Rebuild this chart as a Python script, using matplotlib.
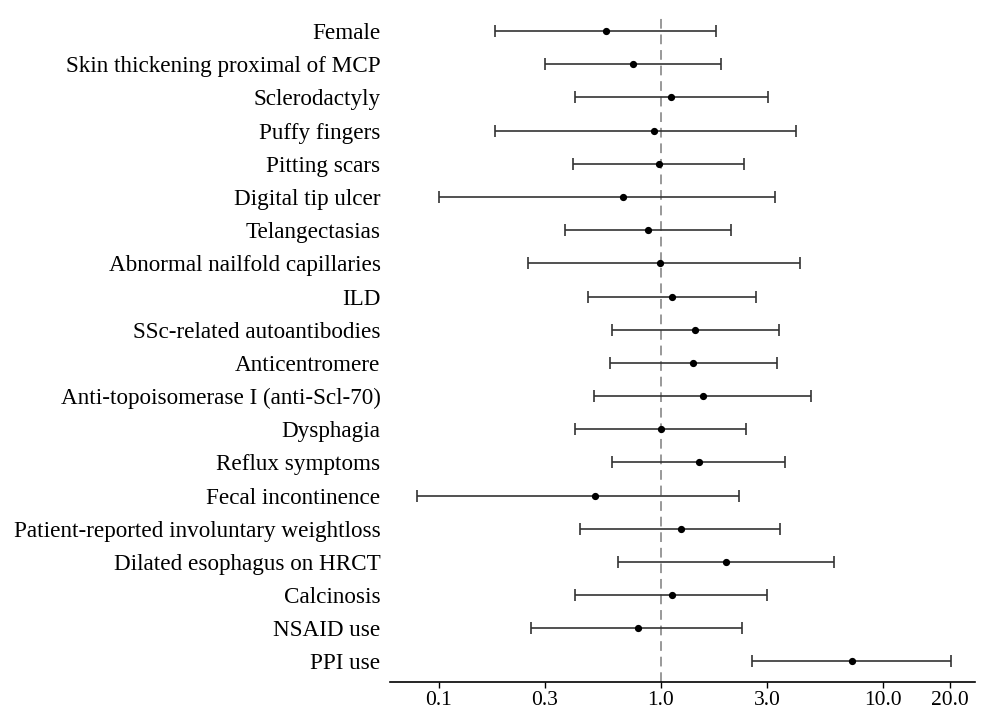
import matplotlib
matplotlib.use("Agg")
import matplotlib.pyplot as plt
import numpy as np

# Odds ratios with 95% CI (top to bottom)
labels = [
    "Female",
    "Skin thickening proximal of MCP",
    "Sclerodactyly",
    "Puffy fingers",
    "Pitting scars",
    "Digital tip ulcer",
    "Telangectasias",
    "Abnormal nailfold capillaries",
    "ILD",
    "SSc-related autoantibodies",
    "Anticentromere",
    "Anti-topoisomerase I (anti-Scl-70)",
    "Dysphagia",
    "Reflux symptoms",
    "Fecal incontinence",
    "Patient-reported involuntary weightloss",
    "Dilated esophagus on HRCT",
    "Calcinosis",
    "NSAID use",
    "PPI use",
]
odds = [0.565, 0.746, 1.11, 0.93, 0.98, 0.676, 0.877, 0.99, 1.12, 1.43,
        1.40, 1.55, 1.00, 1.48, 0.504, 1.23, 1.97, 1.12, 0.786, 7.27]
ci_low = [0.179, 0.30, 0.411, 0.180, 0.402, 0.100, 0.371, 0.251, 0.472, 0.605,
          0.593, 0.502, 0.411, 0.605, 0.080, 0.433, 0.644, 0.411, 0.26, 2.58]
ci_high = [1.78, 1.86, 3.03, 4.04, 2.37, 3.26, 2.06, 4.25, 2.69, 3.42,
           3.34, 4.74, 2.43, 3.61, 2.25, 3.44, 6.05, 3.01, 2.33, 20.2]
xticks = [0.1, 0.3, 1.0, 3.0, 10.0, 20.0]

plt.rcParams["font.family"] = ["Liberation Serif", "DejaVu Serif"]

odds = np.array(odds)
ci_low = np.array(ci_low)
ci_high = np.array(ci_high)
ypos = np.arange(len(labels))[::-1]

fig = plt.figure(figsize=(9.83, 7.10), dpi=100)
ax = fig.add_axes([0.397, 0.0394, 0.595, 0.9406])

ax.axvline(1.0, color="#999999", lw=1.4, ls=(0, (5, 3)), zorder=1)
ax.errorbar(odds, ypos, xerr=[odds - ci_low, ci_high - odds], fmt="o",
            color="black", ecolor="#333333", elinewidth=1.2, capsize=4,
            capthick=1.2, markersize=4.2, zorder=3)

ax.set_xscale("log")
ax.set_xlim(0.0605, 26.0)
ax.set_ylim(-0.62, 19.51)
ax.set_xticks(xticks)
ax.set_xticklabels([f"{t:.1f}" for t in xticks])
ax.minorticks_off()
ax.set_yticks(ypos)
ax.set_yticklabels(labels)

for s in ["top", "right", "left"]:
    ax.spines[s].set_visible(False)
ax.spines["bottom"].set_linewidth(1.2)
ax.tick_params(axis="y", length=0, pad=7, labelsize=16.7)
ax.tick_params(axis="x", length=4, width=1, labelsize=15.5, pad=2.5)

fig.savefig("out.png", dpi=100)
